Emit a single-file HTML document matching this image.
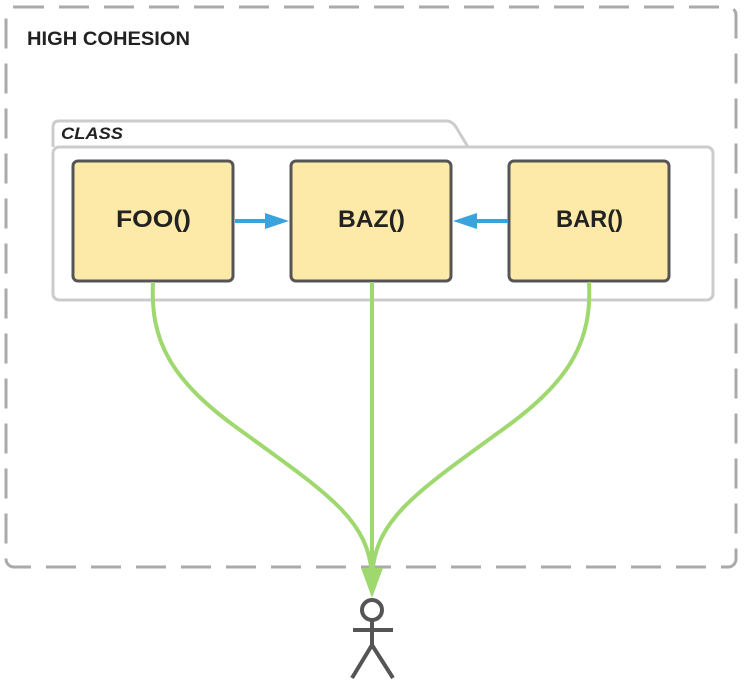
<!DOCTYPE html>
<html><head><style>
html,body{margin:0;padding:0;background:#fff;}
svg{display:block;}
text{font-family:"Liberation Sans",sans-serif;font-weight:bold;fill:#222;}
</style></head><body>
<svg width="744" height="687" viewBox="0 0 744 687" xmlns="http://www.w3.org/2000/svg">
<rect x="6" y="7" width="730" height="560" rx="8" fill="none" stroke="#aaa" stroke-width="3" stroke-dasharray="30 15"/>
<text x="27" y="45" font-size="19" textLength="163" lengthAdjust="spacingAndGlyphs">HIGH COHESION</text>
<path d="M53,147 V127 Q53,121 59,121 H447 Q452,121 456,127 L468,147" fill="none" stroke="#ccc" stroke-width="3"/>
<rect x="53" y="147" width="660" height="153" rx="6" fill="none" stroke="#ccc" stroke-width="3"/>
<text x="61" y="139" font-size="17" font-style="italic" textLength="62" lengthAdjust="spacingAndGlyphs">CLASS</text>
<g fill="#feeaa8" stroke="#555" stroke-width="3">
<rect x="73" y="161" width="160" height="120" rx="5"/>
<rect x="291" y="161" width="160" height="120" rx="5"/>
<rect x="509" y="161" width="160" height="120" rx="5"/>
</g>
<g font-size="24">
<text x="116" y="227" textLength="75" lengthAdjust="spacingAndGlyphs">FOO()</text>
<text x="338" y="227" textLength="67" lengthAdjust="spacingAndGlyphs">BAZ()</text>
<text x="556" y="227" textLength="67" lengthAdjust="spacingAndGlyphs">BAR()</text>
</g>
<g stroke="#3ba3dc" stroke-width="4" fill="#3ba3dc">
<line x1="235" y1="221" x2="266" y2="221"/>
<polygon points="265,213 289,221 265,229" stroke="none"/>
<line x1="508" y1="221" x2="476" y2="221"/>
<polygon points="477,213 453,221 477,229" stroke="none"/>
</g>
<g stroke="#a0d870" stroke-width="4" fill="none">
<path d="M153,282 C150,340 170,380 240,430 C330,495 368,520 372,575"/>
<path d="M372,282 V575"/>
<path d="M589,282 C592,340 572,380 502,430 C412,495 376,520 372,575"/>
</g>
<polygon points="361,568 383,568 372,598" fill="#a0d870"/>
<g stroke="#555" stroke-width="4" fill="none">
<circle cx="372" cy="610" r="10"/>
<line x1="372" y1="620" x2="372" y2="645"/>
<line x1="353" y1="630" x2="393" y2="630"/>
<polyline points="352,678 372,645 393,678"/>
</g>
</svg>
</body></html>
